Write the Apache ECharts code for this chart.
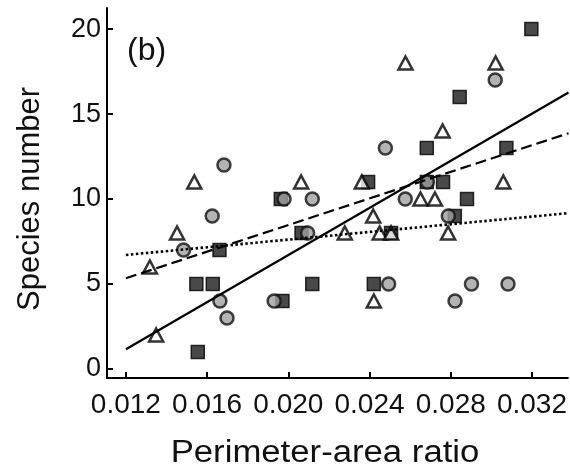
<!DOCTYPE html>
<html>
<head>
<meta charset="utf-8">
<script src="https://cdn.jsdelivr.net/npm/echarts@6/dist/echarts.min.js"></script>
<style>
  html, body { margin: 0; padding: 0; background: #fff; }
  #chart { width: 570px; height: 474px; }
</style>
</head>
<body>
<div id="chart"></div>
<script>
// Species number against perimeter-area ratio, three groups of sites
var squares = [
  [0.01547, 5], [0.01628, 5], [0.01554, 1], [0.01661, 7], [0.01963, 10],
  [0.02065, 8], [0.02118, 5], [0.01971, 4], [0.02393, 11], [0.02421, 5],
  [0.02506, 8], [0.02682, 13], [0.02682, 11], [0.02762, 11], [0.02844, 16],
  [0.02880, 10], [0.02820, 9], [0.03074, 13], [0.03197, 20]
];
var circles = [
  [0.01484, 7], [0.01625, 9], [0.01683, 12], [0.01663, 4], [0.01698, 3],
  [0.01930, 4], [0.01979, 10], [0.02118, 10], [0.02095, 8], [0.02478, 13],
  [0.02494, 5], [0.02576, 10], [0.02685, 11], [0.02788, 9], [0.02821, 4],
  [0.02902, 5], [0.03019, 17], [0.03082, 5]
];
var triangles = [
  [0.01318, 6], [0.01349, 2], [0.01452, 8], [0.01537, 11], [0.02063, 11],
  [0.02278, 8], [0.02362, 11], [0.02418, 9], [0.02421, 4], [0.02450, 8],
  [0.02506, 8], [0.02577, 18], [0.02651, 10], [0.02722, 10], [0.02760, 14],
  [0.02787, 8], [0.03021, 18], [0.03059, 11]
];

// Fitted lines: end points of each regression
var fitX = [0.012, 0.0338];
var solidFit = [1.16, 16.27];
var dashedFit = [5.34, 13.87];
var dottedFit = [6.71, 9.17];

var xTicks = [0.012, 0.016, 0.020, 0.024, 0.028, 0.032];
var yTicks = [0, 5, 10, 15, 20];

function linePoints(ys) {
  return fitX.map(function (x, i) { return [x, ys[i]]; });
}

var font = 'Liberation Sans, Arial, sans-serif';
var chart = echarts.init(document.getElementById('chart'), null, { renderer: 'canvas' });

var axisCommon = {
  axisLine: { show: true, onZero: false, lineStyle: { color: '#000', width: 2 } },
  axisTick: { show: true, inside: true, length: 6, lineStyle: { color: '#000', width: 2 } },
  splitLine: { show: false }
};

chart.setOption({
  animation: false,
  backgroundColor: '#fff',
  grid: { left: 107, top: 8, right: 0, bottom: 96, containLabel: false },
  xAxis: Object.assign({
    type: 'value',
    min: 0.011069,
    max: 0.033765,
    axisLabel: {
      customValues: xTicks,
      color: '#111', fontSize: 28, fontFamily: font, margin: 13,
      formatter: function (v) { return v.toFixed(3); }
    }
  }, axisCommon, {
    axisTick: Object.assign({ customValues: xTicks }, axisCommon.axisTick)
  }),
  yAxis: Object.assign({
    type: 'value',
    min: -0.53,
    max: 21.24,
    axisLabel: {
      customValues: yTicks,
      color: '#111', fontSize: 27, fontFamily: font, margin: 6
    }
  }, axisCommon, {
    axisTick: Object.assign({ customValues: yTicks }, axisCommon.axisTick)
  }),
  graphic: [
    { type: 'text', left: 127, top: 35, style: { text: '(b)', font: '32px ' + font, fill: '#111' } },
    { type: 'text', x: 325, y: 453, scaleX: 1.12, style: { text: 'Perimeter-area ratio', font: '31px ' + font, fill: '#111', align: 'center', verticalAlign: 'middle' } },
    { type: 'text', x: 30, y: 199, rotation: Math.PI / 2, style: { text: 'Species number', font: '31px ' + font, fill: '#111', align: 'center', verticalAlign: 'middle' } }
  ],
  series: [
    {
      type: 'scatter', data: squares, symbol: 'rect', symbolSize: 13,
      itemStyle: { color: '#1c1c1c', borderColor: '#000', borderWidth: 1.5 }
    },
    {
      type: 'scatter', data: circles, symbol: 'circle', symbolSize: 13,
      itemStyle: { color: '#a0a0a0', borderColor: '#111', borderWidth: 2.5 }
    },
    {
      type: 'scatter', data: triangles, symbol: 'triangle', symbolSize: [14, 13],
      itemStyle: { color: '#fff', borderColor: '#000', borderWidth: 2.5 }
    },
    {
      type: 'line', data: linePoints(solidFit), symbol: 'none', clip: true,
      lineStyle: { color: '#000', width: 2.2, type: 'solid' }
    },
    {
      type: 'line', data: linePoints(dashedFit), symbol: 'none', clip: true,
      lineStyle: { color: '#000', width: 2.2, type: [11, 5] }
    },
    {
      type: 'line', data: linePoints(dottedFit), symbol: 'none', clip: true,
      lineStyle: { color: '#000', width: 2.6, type: [2.5, 2.5] }
    }
  ]
});
</script>
</body>
</html>
